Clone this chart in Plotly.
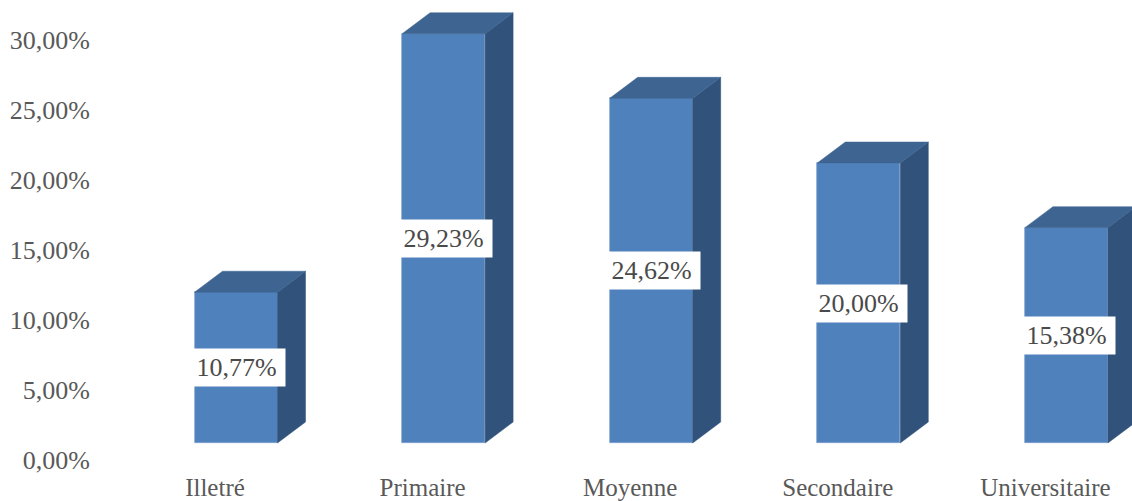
import plotly.graph_objects as go

categories = ["Illetré", "Primaire", "Moyenne", "Secondaire", "Universitaire"]
values = [10.77, 29.23, 24.62, 20.00, 15.38]
y_ticks = [0, 5, 10, 15, 20, 25, 30]
y_tick_labels = ["0,00%", "5,00%", "10,00%", "15,00%", "20,00%", "25,00%", "30,00%"]

FRONT = "#4F81BD"
SIDE = "#31527A"
TOP = "#3E6491"
EDGE = "#7C9FCB"
TEXT = "#595959"
FONT = "Liberation Serif"

W, H = 1132, 501
ML, MB = 91, 31
PX_CAT = 207.6
PX_PCT = 14.0
BAR_PX = 83.0
DEPTH_X = 28 / PX_CAT
DEPTH_Y = 21 / PX_PCT
HALF = BAR_PX / 2 / PX_CAT
bottom_px = H - MB

def xr(center):
    return [(ML - center) / PX_CAT, (W - center) / PX_CAT]

def yr(zero):
    return [(zero - bottom_px) / PX_PCT, zero / PX_PCT]

fig = go.Figure()
idx = list(range(len(categories)))

# invisible carrier for the tick-label axes
fig.add_trace(go.Scatter(x=idx, y=values, mode="markers", marker=dict(opacity=0),
                         hoverinfo="skip", showlegend=False, xaxis="x", yaxis="y"))

for i, v in zip(idx, values):
    r = i + HALF
    l = i - HALF
    fig.add_trace(go.Scatter(
        x=[r, r + DEPTH_X, r + DEPTH_X, r, r], y=[0, DEPTH_Y, v + DEPTH_Y, v, 0],
        fill="toself", fillcolor=SIDE, mode="lines", line=dict(color=SIDE, width=0.5),
        hoverinfo="skip", showlegend=False, xaxis="x2", yaxis="y2"))
    fig.add_trace(go.Scatter(
        x=[l, l + DEPTH_X, r + DEPTH_X, r, l], y=[v, v + DEPTH_Y, v + DEPTH_Y, v, v],
        fill="toself", fillcolor=TOP, mode="lines", line=dict(color=TOP, width=0.5),
        hoverinfo="skip", showlegend=False, xaxis="x2", yaxis="y2"))

fig.add_trace(go.Bar(x=idx, y=values, width=2 * HALF,
                     marker=dict(color=FRONT, line=dict(color=EDGE, width=0.7)),
                     showlegend=False, xaxis="x2", yaxis="y2"))

annotations = [
    dict(x=i, y=v / 2, xref="x2", yref="y2", text=f"{v:.2f}%".replace(".", ","),
         showarrow=False, bgcolor="white", width=95, height=35, align="center",
         font=dict(family=FONT, size=26, color="#4A4A4A"))
    for i, v in zip(idx, values)
]

fig.update_layout(
    width=W, height=H, autosize=False,
    margin=dict(l=ML, r=0, t=0, b=MB),
    paper_bgcolor="white", plot_bgcolor="white",
    bargap=0,
    annotations=annotations,
    xaxis=dict(range=xr(215), tickmode="array", tickvals=idx, ticktext=categories,
               automargin=False,
               showgrid=False, zeroline=False, showline=False, ticks="",
               ticklen=0, tickfont=dict(family=FONT, size=25, color=TEXT)),
    yaxis=dict(range=yr(460), tickmode="array", tickvals=y_ticks, ticktext=y_tick_labels,
               automargin=False,
               showgrid=False, zeroline=False, showline=False, ticks="",
               tickfont=dict(family=FONT, size=26, color=TEXT)),
    xaxis2=dict(range=xr(236), overlaying="x", visible=False),
    yaxis2=dict(range=yr(443), overlaying="y", visible=False),
)

fig.write_html("out.html", config={"displayModeBar": False},
               post_script="document.body.style.margin='0';document.body.style.overflow='hidden';")
